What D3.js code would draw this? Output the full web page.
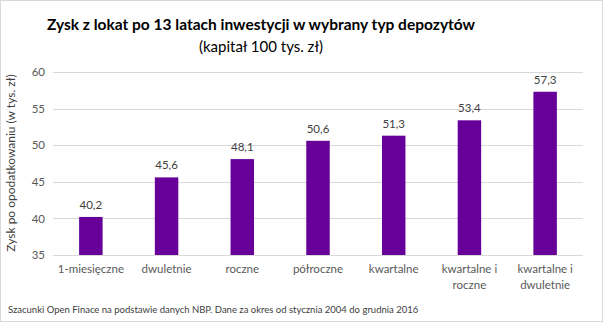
<!DOCTYPE html>
<html><head><meta charset="utf-8">
<script src="https://cdn.jsdelivr.net/npm/d3@7"></script>
<style>body{margin:0;background:#fff}svg{display:block}text{font-family:Lato,"Open Sans",sans-serif}</style>
</head><body>
<svg id="c" width="603" height="322"></svg>
<script>
const categories = ["1-miesięczne","dwuletnie","roczne","półroczne","kwartalne","kwartalne i roczne","kwartalne i dwuletnie"];
const catLines = [["1-miesięczne"],["dwuletnie"],["roczne"],["półroczne"],["kwartalne"],["kwartalne i","roczne"],["kwartalne i","dwuletnie"]];
const values = [40.2,45.6,48.1,50.6,51.3,53.4,57.3];
const valueLabels = ["40,2","45,6","48,1","50,6","51,3","53,4","57,3"];
const yTicks = [35,40,45,50,55,60];
const title = "Zysk z lokat po 13 latach inwestycji w wybrany typ depozytów";
const subtitle = "(kapitał 100 tys. zł)";
const yTitle = "Zysk po opodatkowaniu (w tys. zł)";
const footnote = "Szacunki Open Finace na podstawie danych NBP. Dane za okres od stycznia 2004 do grudnia 2016";

const svg = d3.select("#c");
svg.append("rect").attr("x",0.5).attr("y",0.5).attr("width",602).attr("height",321).attr("fill","#fff").attr("stroke","#d9d9d9");

const x = d3.scaleBand().domain(categories).range([53,583]).paddingInner(0.69).paddingOuter(0.345);
const y = d3.scaleLinear().domain([35,60]).range([255,72]);

svg.append("g").selectAll("line").data(yTicks).join("line")
  .attr("x1",53).attr("x2",583).attr("y1",d=>Math.round(y(d))+0.5).attr("y2",d=>Math.round(y(d))+0.5)
  .attr("stroke","#d9d9d9").attr("stroke-width",1);

const ya = svg.append("g").attr("transform","translate(45,0)")
  .call(d3.axisLeft(y).tickValues(yTicks).tickSize(0).tickPadding(0).tickFormat(d3.format("d")));
ya.select(".domain").remove();
ya.selectAll("text").attr("font-size",11.5).attr("fill","#595959").attr("font-family","Lato");

svg.append("g").selectAll("rect").data(values).join("rect")
  .attr("x",(d,i)=>x(categories[i])).attr("width",x.bandwidth())
  .attr("y",d=>y(d)).attr("height",d=>y(35)-y(d)).attr("fill","#660099");

svg.append("g").selectAll("text").data(values).join("text")
  .attr("x",(d,i)=>x(categories[i])+x.bandwidth()/2).attr("y",d=>y(d)-8)
  .attr("text-anchor","middle").attr("font-size",11.5).attr("fill","#404040")
  .text((d,i)=>valueLabels[i]);

const xl = svg.append("g").selectAll("text").data(categories).join("text")
  .attr("x",d=>x(d)+x.bandwidth()/2).attr("y",273)
  .attr("text-anchor","middle").attr("font-size",11.5).attr("fill","#595959");
xl.each(function(d,i){
  const t=d3.select(this);
  catLines[i].forEach((l,j)=>t.append("tspan").attr("x",x(d)+x.bandwidth()/2).attr("dy",j?16:0).text(l));
});

svg.append("text").attr("x",261).attr("y",30).attr("text-anchor","middle")
  .attr("font-size",15.5).attr("font-weight","bold").attr("fill","#000").text(title);
svg.append("text").attr("x",261).attr("y",52).attr("text-anchor","middle")
  .attr("font-size",15).attr("fill","#000").text(subtitle);
svg.append("text").attr("transform","translate(15,163) rotate(-90)").attr("text-anchor","middle")
  .attr("font-size",12).attr("fill","#404040").text(yTitle);
svg.append("text").attr("x",8).attr("y",313).attr("font-size",9.5).attr("fill","#404040").text(footnote);
</script>
</body></html>
